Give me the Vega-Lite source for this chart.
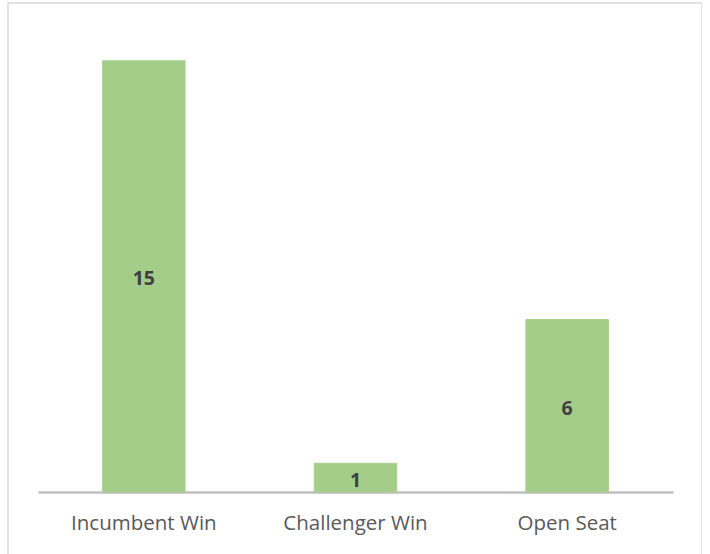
{
  "$schema": "https://vega.github.io/schema/vega-lite/v6.json",
  "width": 694,
  "height": 557,
  "autosize": {"type": "none"},
  "padding": {"left": 8, "top": 3, "right": 0, "bottom": 0},
  "background": "white",
  "config": {
    "view": {"stroke": "#d9d9d9", "strokeWidth": 1.5},
    "font": "Open Sans"
  },
  "data": {
    "values": [
      {"category": "Incumbent Win", "value": 15},
      {"category": "Challenger Win", "value": 1},
      {"category": "Open Seat", "value": 6}
    ]
  },
  "encoding": {
    "x": {
      "field": "category",
      "type": "nominal",
      "sort": null,
      "scale": {"range": [30, 665], "paddingInner": 0.61, "paddingOuter": 0.305},
      "axis": {
        "title": null,
        "orient": "bottom",
        "offset": -68,
        "domainColor": "#bfbfbf",
        "domainWidth": 2.5,
        "ticks": false,
        "labelFont": "Open Sans",
        "labelFontSize": 20.5,
        "labelColor": "#595959",
        "labelPadding": 21,
        "labelAngle": 0
      }
    }
  },
  "layer": [
    {
      "mark": {"type": "bar", "fill": "#a5cd8a", "stroke": "#a9d18e", "strokeWidth": 1},
      "encoding": {
        "y": {
          "field": "value",
          "type": "quantitative",
          "scale": {"domain": [0, 16], "range": [489, 29], "nice": false},
          "axis": null
        }
      }
    },
    {
      "mark": {"type": "text", "fontWeight": "bold", "fontSize": 19.5, "color": "#404040", "baseline": "middle", "dy": 3, "font": "Open Sans"},
      "encoding": {
        "y": {"field": "value", "type": "quantitative", "stack": "zero", "bandPosition": 0.5},
        "text": {"field": "value", "type": "quantitative"}
      }
    }
  ]
}
